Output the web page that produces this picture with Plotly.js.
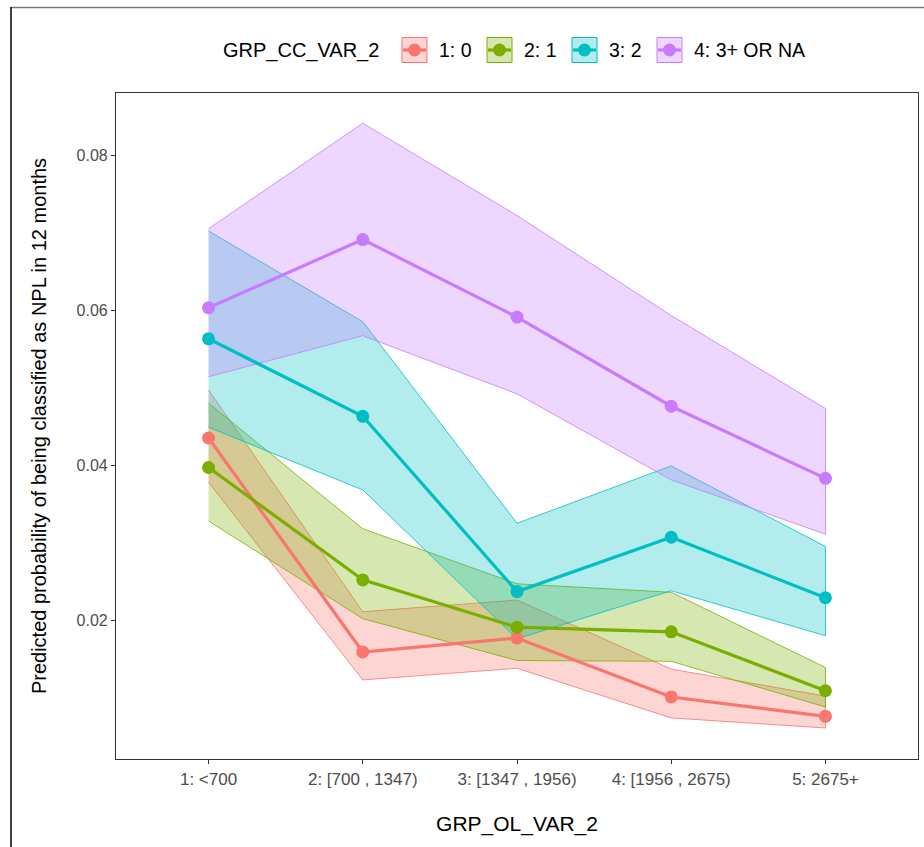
<!DOCTYPE html>
<html>
<head>
<meta charset="utf-8">
<script src="https://cdn.plot.ly/plotly-3.0.1.min.js"></script>
<style>
  html, body { margin: 0; padding: 0; background: #ffffff; }
  #chart { width: 924px; height: 847px; }
</style>
</head>
<body>
<div id="chart"></div>
<script>
// ---- data ----
const categories = ["1: <700", "2: [700 , 1347)", "3: [1347 , 1956)", "4: [1956 , 2675)", "5: 2675+"];
const groups = ["1: 0", "2: 1", "3: 2", "4: 3+ OR NA"];
const legendTitle = "GRP_CC_VAR_2";
const xTitle = "GRP_OL_VAR_2";
const yTitle = "Predicted probability of being classified as NPL in 12 months";
const yTickVals = [0.02, 0.04, 0.06, 0.08];

const fit_0 = [0.0435, 0.0159, 0.0177, 0.0101, 0.0076];
const lo_0  = [0.0378, 0.0123, 0.0138, 0.0074, 0.0061];
const hi_0  = [0.0497, 0.0211, 0.0226, 0.0137, 0.0102];

const fit_1 = [0.0397, 0.0252, 0.0191, 0.0185, 0.0109];
const lo_1  = [0.0328, 0.0202, 0.0148, 0.0147, 0.0088];
const hi_1  = [0.0480, 0.0318, 0.0247, 0.0236, 0.0139];

const fit_2 = [0.0563, 0.0463, 0.0237, 0.0307, 0.0229];
const lo_2  = [0.0449, 0.0368, 0.0176, 0.0238, 0.0180];
const hi_2  = [0.0702, 0.0585, 0.0325, 0.0399, 0.0295];

const fit_3 = [0.0603, 0.0691, 0.0591, 0.0476, 0.0383];
const lo_3  = [0.0514, 0.0567, 0.0492, 0.0381, 0.0311];
const hi_3  = [0.0705, 0.0841, 0.0722, 0.0593, 0.0473];

// ---- styling ----
const colors = ["#F8766D", "#7CAE00", "#00BFC4", "#C77CFF"];
const fills  = ["rgba(248,118,109,0.3)", "rgba(124,174,0,0.3)", "rgba(0,191,196,0.3)", "rgba(199,124,255,0.3)"];
const fits = [fit_0, fit_1, fit_2, fit_3];
const los  = [lo_0, lo_1, lo_2, lo_3];
const his  = [hi_0, hi_1, hi_2, hi_3];

const W = 924, H = 847;
const M = {l: 116, r: 6, t: 93, b: 88};
const pw = W - M.l - M.r, ph = H - M.t - M.b;
const px = x => (x - M.l) / pw;          // pixel -> paper x
const py = y => (H - M.b - y) / ph;      // pixel -> paper y

const FONT = "Liberation Sans, Arial, sans-serif";
const traces = [];

// ribbons
for (let g = 0; g < groups.length; g++) {
  traces.push({
    type: "scatter", mode: "lines",
    x: categories.concat(categories.slice().reverse()),
    y: his[g].concat(los[g].slice().reverse()),
    fill: "toself", fillcolor: fills[g],
    line: {color: colors[g], width: 0.8},
    hoverinfo: "skip", showlegend: false
  });
}
// lines + points
for (let g = 0; g < groups.length; g++) {
  traces.push({
    type: "scatter", mode: "lines+markers",
    x: categories, y: fits[g], name: groups[g],
    line: {color: colors[g], width: 3.2},
    marker: {color: colors[g], size: 13},
    showlegend: false
  });
}

// ---- custom legend (ggplot-style keys) ----
const shapes = [];
const annotations = [];
const legY = 50;         // legend centre (px)
const key = 25;          // key box size (px)
annotations.push({
  xref: "paper", yref: "paper", x: px(221), y: py(legY),
  xanchor: "left", yanchor: "middle", showarrow: false,
  text: legendTitle, font: {family: FONT, size: 20, color: "#000000"}
});
const keyLeft = [402, 487, 572, 657];
for (let g = 0; g < groups.length; g++) {
  const x0 = keyLeft[g], x1 = x0 + key, y0 = legY - key / 2, y1 = legY + key / 2;
  shapes.push({type: "rect", xref: "paper", yref: "paper",
    x0: px(x0), x1: px(x1), y0: py(y1), y1: py(y0),
    fillcolor: fills[g], line: {color: colors[g], width: 1}});
  shapes.push({type: "line", xref: "paper", yref: "paper",
    x0: px(x0 + 1), x1: px(x1 - 1), y0: py(legY), y1: py(legY),
    line: {color: colors[g], width: 3.2}});
  const r = 6.5, cx = (x0 + x1) / 2;
  shapes.push({type: "circle", xref: "paper", yref: "paper",
    x0: px(cx - r), x1: px(cx + r), y0: py(legY + r), y1: py(legY - r),
    fillcolor: colors[g], line: {color: colors[g], width: 0}});
  annotations.push({
    xref: "paper", yref: "paper", x: px(x1 + 10), y: py(legY),
    xanchor: "left", yanchor: "middle", showarrow: false,
    text: groups[g], font: {family: FONT, size: 19.5, color: "#000000"}
  });
}

// outer frame (left & top edges visible in reference)
shapes.push({type: "line", xref: "paper", yref: "paper",
  x0: px(11), x1: px(W + 5), y0: py(7.5), y1: py(7.5), line: {color: "#777777", width: 1.5}});
shapes.push({type: "line", xref: "paper", yref: "paper",
  x0: px(11), x1: px(11), y0: py(7), y1: py(H + 5), line: {color: "#000000", width: 1.5}});

const layout = {
  width: W, height: H,
  margin: M,
  paper_bgcolor: "#ffffff", plot_bgcolor: "#ffffff",
  font: {family: FONT, color: "#000000"},
  showlegend: false,
  xaxis: {
    type: "category", categoryarray: categories, categoryorder: "array",
    range: [-0.6, 4.6],
    showgrid: false, zeroline: false,
    showline: true, mirror: true, linecolor: "#333333", linewidth: 1.2,
    ticks: "outside", ticklen: 4, tickcolor: "#333333", tickwidth: 1,
    tickfont: {family: FONT, size: 17, color: "#4D4D4D"},
    title: {text: xTitle, font: {family: FONT, size: 21, color: "#000000"}, standoff: 28}
  },
  yaxis: {
    range: [0.0021, 0.0880],
    tickvals: yTickVals, ticktext: yTickVals.map(v => v.toFixed(2)),
    showgrid: false, zeroline: false,
    showline: true, mirror: true, linecolor: "#333333", linewidth: 1.2,
    ticks: "outside", ticklen: 4, tickcolor: "#333333", tickwidth: 1,
    tickfont: {family: FONT, size: 16, color: "#4D4D4D"},
    title: {text: yTitle, font: {family: FONT, size: 20, color: "#000000"}, standoff: 24}
  },
  shapes: shapes,
  annotations: annotations
};

Plotly.newPlot("chart", traces, layout, {displayModeBar: false, responsive: false});
</script>
</body>
</html>
